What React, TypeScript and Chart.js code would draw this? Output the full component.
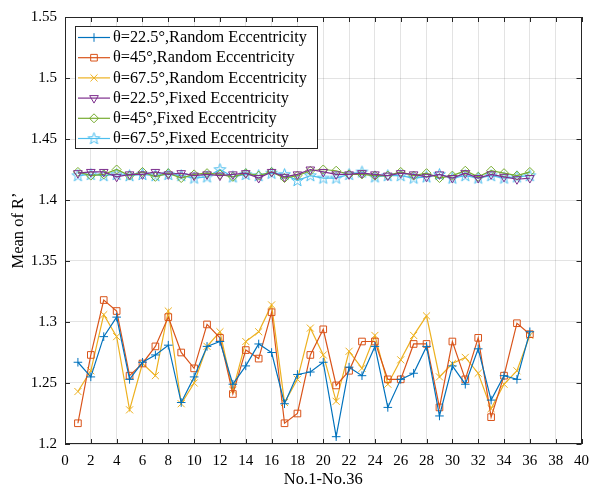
import React, { useEffect, useRef } from 'react';
import { Chart, registerables } from 'chart.js';
import { drawPoint } from 'chart.js/helpers';

Chart.register(...registerables);

// Sample numbers along the x axis
const sampleNo = [
  1, 2, 3, 4, 5, 6, 7, 8, 9, 10, 11, 12, 13, 14, 15, 16, 17, 18,
  19, 20, 21, 22, 23, 24, 25, 26, 27, 28, 29, 30, 31, 32, 33, 34, 35, 36,
];

// Mean of R' – random eccentricity
const random225 = [
  1.267, 1.255, 1.288, 1.304, 1.253, 1.267, 1.273, 1.281, 1.234, 1.255, 1.280, 1.284,
  1.249, 1.264, 1.282, 1.275, 1.233, 1.257, 1.259, 1.267, 1.206, 1.263, 1.256, 1.280,
  1.230, 1.253, 1.258, 1.280, 1.223, 1.264, 1.249, 1.278, 1.236, 1.256, 1.253, 1.292,
];
const random45 = [
  1.217, 1.273, 1.318, 1.309, 1.256, 1.266, 1.280, 1.304, 1.275, 1.262, 1.298, 1.287,
  1.241, 1.277, 1.270, 1.308, 1.217, 1.225, 1.273, 1.294, 1.248, 1.260, 1.284, 1.284,
  1.253, 1.253, 1.282, 1.282, 1.230, 1.284, 1.253, 1.287, 1.222, 1.256, 1.299, 1.290,
];
const random675 = [
  1.243, 1.260, 1.306, 1.288, 1.228, 1.266, 1.256, 1.309, 1.233, 1.250, 1.280, 1.292,
  1.244, 1.284, 1.292, 1.314, 1.234, 1.253, 1.295, 1.273, 1.235, 1.276, 1.262, 1.289,
  1.249, 1.269, 1.289, 1.305, 1.255, 1.266, 1.271, 1.258, 1.229, 1.249, 1.260, 1.289,
];

// Mean of R' – fixed eccentricity
const fixed225 = [
  1.422, 1.423, 1.423, 1.419, 1.421, 1.421, 1.423, 1.421, 1.422, 1.420, 1.421, 1.420,
  1.421, 1.422, 1.418, 1.423, 1.419, 1.421, 1.425, 1.423, 1.421, 1.421, 1.422, 1.421,
  1.420, 1.422, 1.421, 1.419, 1.421, 1.418, 1.422, 1.418, 1.421, 1.419, 1.417, 1.418,
];
const fixed45 = [
  1.423, 1.420, 1.421, 1.425, 1.420, 1.423, 1.419, 1.422, 1.418, 1.421, 1.422, 1.421,
  1.419, 1.422, 1.420, 1.423, 1.418, 1.420, 1.424, 1.425, 1.424, 1.421, 1.421, 1.420,
  1.420, 1.423, 1.420, 1.422, 1.418, 1.420, 1.424, 1.419, 1.424, 1.422, 1.420, 1.423,
];
const fixed675 = [
  1.420, 1.421, 1.420, 1.421, 1.420, 1.421, 1.420, 1.421, 1.420, 1.418, 1.419, 1.425,
  1.419, 1.421, 1.420, 1.422, 1.421, 1.416, 1.420, 1.418, 1.418, 1.421, 1.423, 1.419,
  1.420, 1.420, 1.418, 1.419, 1.421, 1.418, 1.420, 1.418, 1.420, 1.418, 1.419, 1.420,
];

const seriesLabels = [
  'θ=22.5°,Random Eccentricity',
  'θ=45°,Random Eccentricity',
  'θ=67.5°,Random Eccentricity',
  'θ=22.5°,Fixed Eccentricity',
  'θ=45°,Fixed Eccentricity',
  'θ=67.5°,Fixed Eccentricity',
];

const xTitle = 'No.1-No.36';
const yTitle = 'Mean of R’';

const FONT = '"Liberation Serif", "Times New Roman", serif';
const AXIS = '#262626';

// Five-pointed star marker drawn on a small canvas
function makeStar(color: string): HTMLCanvasElement {
  const c = document.createElement('canvas');
  c.width = 15;
  c.height = 15;
  const g = c.getContext('2d')!;
  const cx = 7.5, cy = 7.8, ro = 6.2, ri = 2.5;
  g.beginPath();
  for (let i = 0; i < 10; i++) {
    const r = i % 2 === 0 ? ro : ri;
    const a = -Math.PI / 2 + (i * Math.PI) / 5;
    const px = cx + r * Math.cos(a);
    const py = cy + r * Math.sin(a);
    if (i === 0) g.moveTo(px, py);
    else g.lineTo(px, py);
  }
  g.closePath();
  g.strokeStyle = color;
  g.lineWidth = 1;
  g.stroke();
  return c;
}

function toPoints(values: number[]) {
  return sampleNo.map((n, i) => ({ x: n, y: values[i] }));
}

const frameAndLegend = {
  id: 'frameAndLegend',
  afterDatasetsDraw(chart: any) {
    const { ctx, chartArea, scales } = chart;
    const { left, right, top, bottom } = chartArea;
    const xs = scales.x;
    const ys = scales.y;
    ctx.save();

    // axis box with inward ticks on all four sides
    ctx.strokeStyle = AXIS;
    ctx.lineWidth = 1;
    ctx.beginPath();
    xs.ticks.forEach((t: any) => {
      const px = Math.round(xs.getPixelForValue(t.value)) + 0.5;
      ctx.moveTo(px, bottom);
      ctx.lineTo(px, bottom - 5);
      ctx.moveTo(px, top);
      ctx.lineTo(px, top + 5);
    });
    ys.ticks.forEach((t: any) => {
      const py = Math.round(ys.getPixelForValue(t.value)) + 0.5;
      ctx.moveTo(left, py);
      ctx.lineTo(left + 5, py);
      ctx.moveTo(right, py);
      ctx.lineTo(right - 5, py);
    });
    ctx.stroke();
    ctx.strokeRect(Math.round(left) + 0.5, Math.round(top) + 0.5,
      Math.round(right - left) - 1, Math.round(bottom - top) - 1);

    // axis titles
    ctx.fillStyle = '#000';
    ctx.font = `16.5px ${FONT}`;
    ctx.textAlign = 'center';
    ctx.textBaseline = 'middle';
    ctx.fillText(xTitle, (left + right) / 2, 480);
    ctx.save();
    ctx.translate(19, (top + bottom) / 2);
    ctx.rotate(-Math.PI / 2);
    ctx.fillText(yTitle, 0, 0);
    ctx.restore();

    // legend box
    const bx = 75, by = 26, bw = 242, bh = 122;
    ctx.fillStyle = '#fff';
    ctx.fillRect(bx, by, bw, bh);
    ctx.strokeStyle = AXIS;
    ctx.lineWidth = 1;
    ctx.strokeRect(bx + 0.5, by + 0.5, bw, bh);

    chart.data.datasets.forEach((ds: any, i: number) => {
      const cy = 37.5 + i * 20.2;
      ctx.strokeStyle = ds.borderColor;
      ctx.lineWidth = ds.borderWidth;
      ctx.beginPath();
      ctx.moveTo(78, cy);
      ctx.lineTo(110, cy);
      ctx.stroke();
      if (ds.pointStyle instanceof HTMLCanvasElement) {
        const img = ds.pointStyle;
        ctx.drawImage(img, 94 - img.width / 2, cy - img.height / 2);
      } else {
        ctx.fillStyle = 'rgba(0,0,0,0)';
        ctx.lineWidth = 1;
        drawPoint(ctx, {
          pointStyle: ds.pointStyle,
          rotation: ds.pointRotation || 0,
          radius: ds.pointRadius,
          borderWidth: 1,
        }, 94, cy);
      }
      ctx.fillStyle = '#000';
      ctx.font = `16.3px ${FONT}`;
      ctx.textAlign = 'left';
      ctx.textBaseline = 'middle';
      ctx.fillText(ds.label, 113, cy + 0.5);
    });

    ctx.restore();
  },
};

function lineSet(label: string, values: number[], color: string, style: any, radius: number, rotation = 0) {
  return {
    label,
    data: toPoints(values),
    borderColor: color,
    backgroundColor: color,
    borderWidth: 1.2,
    pointStyle: style,
    pointRadius: radius,
    pointRotation: rotation,
    pointBorderColor: color,
    pointBackgroundColor: 'rgba(0,0,0,0)',
    pointBorderWidth: 1,
    tension: 0,
  };
}

export default function App() {
  const canvasRef = useRef<HTMLCanvasElement | null>(null);

  useEffect(() => {
    const canvas = canvasRef.current;
    if (!canvas) return;
    const cyan = '#4DBEEE';
    const chart = new Chart(canvas, {
      type: 'line',
      data: {
        datasets: [
          lineSet(seriesLabels[0], random225, '#0072BD', 'cross', 4.3),
          lineSet(seriesLabels[1], random45, '#D95319', 'rect', 4.7),
          lineSet(seriesLabels[2], random675, '#EDB120', 'crossRot', 5),
          lineSet(seriesLabels[3], fixed225, '#7E2F8E', 'triangle', 5, 180),
          lineSet(seriesLabels[4], fixed45, '#77AC30', 'rectRot', 4.5),
          lineSet(seriesLabels[5], fixed675, cyan, makeStar(cyan), 5),
        ] as any,
      },
      options: {
        animation: false,
        responsive: false,
        devicePixelRatio: 1,
        layout: { padding: { top: 17, right: 9, left: 0, bottom: 0 } },
        plugins: {
          legend: { display: false },
          tooltip: { enabled: false },
        },
        scales: {
          x: {
            type: 'linear',
            min: 0,
            max: 40,
            border: { display: false },
            grid: { color: 'rgba(38,38,38,0.13)', drawTicks: false },
            ticks: {
              stepSize: 2,
              padding: 8,
              color: '#000',
              font: { family: FONT, size: 15 },
              maxRotation: 0,
              autoSkip: false,
            },
            afterFit: (scale: any) => { scale.height = 48; },
          },
          y: {
            type: 'linear',
            min: 1.2,
            max: 1.55,
            border: { display: false },
            grid: { color: 'rgba(38,38,38,0.13)', drawTicks: false },
            ticks: {
              stepSize: 0.05,
              padding: 8,
              color: '#000',
              font: { family: FONT, size: 15 },
              callback: (v: any) => String(Number(Number(v).toFixed(2))),
            },
            afterFit: (scale: any) => { scale.width = 65; },
          },
        },
      },
      plugins: [frameAndLegend],
    } as any);
    return () => chart.destroy();
  }, []);

  return (
    <div style={{ position: 'absolute', left: 0, top: 0, width: 597, height: 492, background: '#fff' }}>
      <canvas ref={canvasRef} width={597} height={492} style={{ display: 'block', width: 597, height: 492 }} />
    </div>
  );
}
